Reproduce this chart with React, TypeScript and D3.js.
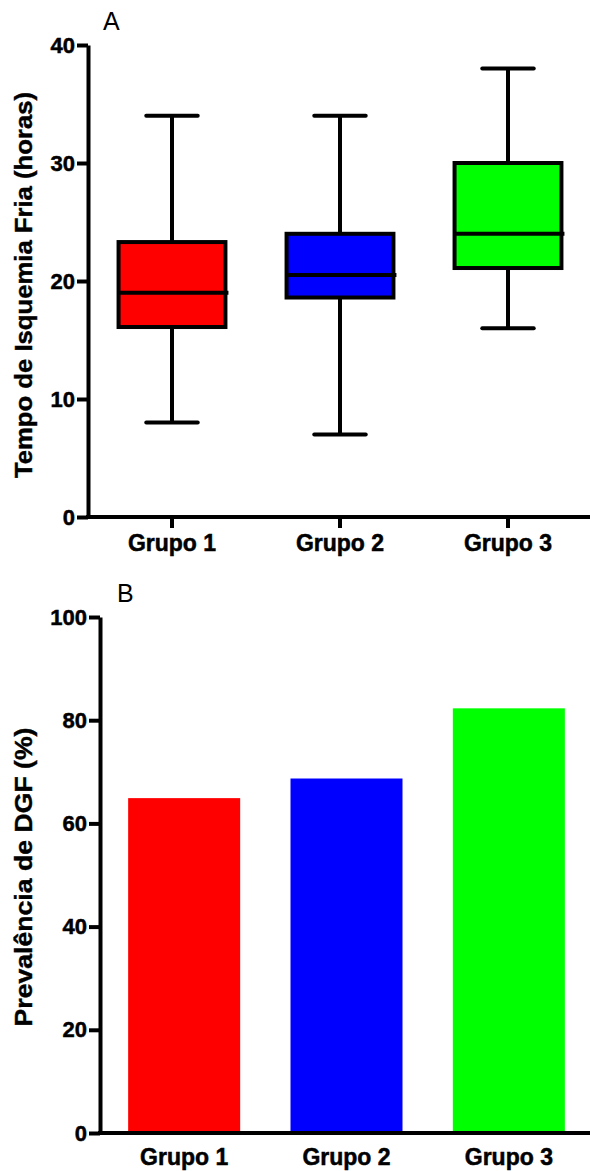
import { useEffect, useRef } from 'react';
import * as d3 from 'd3';

const groups = ['Grupo 1', 'Grupo 2', 'Grupo 3'];
const colors = ['#ff0000', '#0000ff', '#00ff00'];

// box plot (A): tempo de isquemia fria, horas
const whiskerLow = [8, 7, 16];
const q1 = [16.1, 18.6, 21.1];
const median = [19, 20.5, 24];
const q3 = [23.3, 24, 30];
const whiskerHigh = [34, 34, 38];
const ticksA = [0, 10, 20, 30, 40];

// bar chart (B): prevalencia de DGF, %
const prevalence = [64.9, 68.7, 82.3];
const ticksB = [0, 20, 40, 60, 80, 100];

const FONT = 'Arial, "Liberation Sans", sans-serif';

const App = () => {
  const ref = useRef<SVGSVGElement | null>(null);

  const drawChart = () => {
    const svg = d3.select(ref.current);
    svg.selectAll('*').remove();

    // ---------- panel A ----------
    const xA = d3.scaleBand().domain(groups).range([88, 592]).paddingInner(0.34).paddingOuter(0.17);
    const yA = d3.scaleLinear().domain([0, 40]).range([517, 45]);

    const gA = svg.append('g');

    const axA = gA.append('g')
      .attr('transform', 'translate(88,0)')
      .call(d3.axisLeft(yA).tickValues(ticksA).tickSize(11).tickSizeOuter(0).tickPadding(2));
    const bxA = gA.append('g')
      .attr('transform', 'translate(0,517)')
      .call(d3.axisBottom(xA).tickSize(11).tickSizeOuter(0).tickPadding(7));

    const rows = groups.map((g, i) => ({
      g, i, lo: whiskerLow[i], q1: q1[i], med: median[i], q3: q3[i], hi: whiskerHigh[i],
    }));

    const box = gA.selectAll('g.box').data(rows).enter().append('g').attr('class', 'box');
    const cx = (d: any) => (xA(d.g) as number) + xA.bandwidth() / 2;
    const capHalf = xA.bandwidth() / 4;

    // whiskers
    box.append('line')
      .attr('x1', cx).attr('x2', cx)
      .attr('y1', d => yA(d.q3)).attr('y2', d => yA(d.hi))
      .attr('stroke', '#000').attr('stroke-width', 4);
    box.append('line')
      .attr('x1', cx).attr('x2', cx)
      .attr('y1', d => yA(d.q1)).attr('y2', d => yA(d.lo))
      .attr('stroke', '#000').attr('stroke-width', 4);
    box.append('line')
      .attr('x1', d => cx(d) - capHalf + 2).attr('x2', d => cx(d) + capHalf - 2)
      .attr('y1', d => yA(d.hi)).attr('y2', d => yA(d.hi))
      .attr('stroke', '#000').attr('stroke-width', 4).attr('stroke-linecap', 'round');
    box.append('line')
      .attr('x1', d => cx(d) - capHalf + 2).attr('x2', d => cx(d) + capHalf - 2)
      .attr('y1', d => yA(d.lo)).attr('y2', d => yA(d.lo))
      .attr('stroke', '#000').attr('stroke-width', 4).attr('stroke-linecap', 'round');

    // boxes
    box.append('rect')
      .attr('x', d => (xA(d.g) as number) + 2)
      .attr('width', xA.bandwidth() - 4)
      .attr('y', d => yA(d.q3))
      .attr('height', d => yA(d.q1) - yA(d.q3))
      .attr('fill', (d: any) => colors[d.i])
      .attr('stroke', '#000').attr('stroke-width', 4);
    box.append('line')
      .attr('x1', d => (xA(d.g) as number) + 2)
      .attr('x2', d => (xA(d.g) as number) + xA.bandwidth() + 1)
      .attr('y1', d => yA(d.med)).attr('y2', d => yA(d.med))
      .attr('stroke', '#000').attr('stroke-width', 4);

    gA.append('text')
      .attr('x', 103).attr('y', 30)
      .attr('font-family', FONT).attr('font-size', 25)
      .text('A');

    gA.append('text')
      .attr('transform', `translate(32,${(45 + 517) / 2 + 4}) rotate(-90)`)
      .attr('text-anchor', 'middle')
      .attr('font-family', FONT).attr('font-size', 24).attr('font-weight', 'bold')
      .attr('stroke', '#000').attr('stroke-width', 0.4)
      .attr('textLength', 386).attr('lengthAdjust', 'spacingAndGlyphs')
      .text('Tempo de Isquemia Fria (horas)');

    // ---------- panel B ----------
    const xB = d3.scaleBand().domain(groups).range([103, 590]).paddingInner(0.31).paddingOuter(0.155);
    const yB = d3.scaleLinear().domain([0, 100]).range([1133, 617]);

    const gB = svg.append('g');

    gB.selectAll('rect.bar').data(prevalence).enter().append('rect')
      .attr('class', 'bar')
      .attr('x', (_d, i) => xB(groups[i]) as number)
      .attr('width', xB.bandwidth())
      .attr('y', d => yB(d))
      .attr('height', d => yB(0) - yB(d))
      .attr('fill', (_d, i) => colors[i]);

    const axB = gB.append('g')
      .attr('transform', 'translate(100,0)')
      .call(d3.axisLeft(yB).tickValues(ticksB).tickSize(11).tickSizeOuter(0).tickPadding(2));
    const bxB = gB.append('g')
      .attr('transform', 'translate(0,1133)')
      .call(d3.axisBottom(xB).tickSize(0).tickSizeOuter(0).tickPadding(16));
    bxB.select('.domain').attr('d', 'M98,0H590');

    gB.append('text')
      .attr('x', 117).attr('y', 602)
      .attr('font-family', FONT).attr('font-size', 25)
      .text('B');

    gB.append('text')
      .attr('transform', `translate(32,${(617 + 1133) / 2 + 2}) rotate(-90)`)
      .attr('text-anchor', 'middle')
      .attr('font-family', FONT).attr('font-size', 24).attr('font-weight', 'bold')
      .attr('stroke', '#000').attr('stroke-width', 0.4)
      .attr('textLength', 299).attr('lengthAdjust', 'spacingAndGlyphs')
      .text('Prevalência de DGF (%)');

    // shared axis styling
    [axA, bxA, axB, bxB].forEach(ax => {
      ax.selectAll('.domain').attr('stroke', '#000').attr('stroke-width', 4);
      ax.selectAll('.tick line').attr('stroke', '#000').attr('stroke-width', 4);
      ax.selectAll('.tick text')
        .attr('fill', '#000')
        .attr('stroke', '#000').attr('stroke-width', 0.5)
        .attr('font-family', FONT)
        .attr('font-weight', 'bold');
    });
    [axA, axB].forEach(ax => ax.selectAll('.tick text').attr('font-size', 22));
    [bxA, bxB].forEach(ax => ax.selectAll('.tick text').attr('font-size', 23));
    bxA.select('.domain').attr('d', 'M86,0H590');
  };

  useEffect(() => {
    drawChart();
  }, []);

  return (
    <svg
      ref={ref}
      width={590}
      height={1171}
      style={{ position: 'absolute', left: 0, top: 0, background: '#fff' }}
    />
  );
};

export default App;
